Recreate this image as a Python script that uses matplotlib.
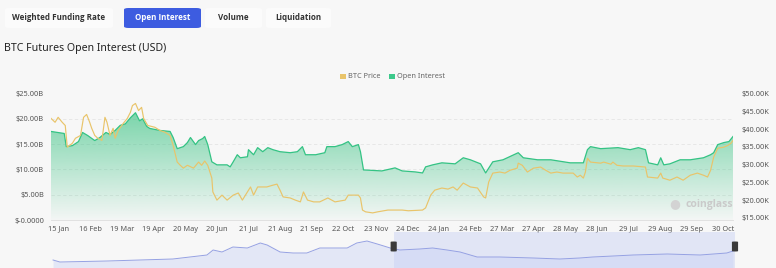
import numpy as np
import pandas as pd
import matplotlib
matplotlib.use("Agg")
import matplotlib.pyplot as plt
import matplotlib.dates as mdates
from matplotlib.patches import FancyBboxPatch, Rectangle

plt.rcParams['font.family'] = ['Noto Sans', 'DejaVu Sans']

# ---- data (days counted from START) ----
START = '2022-01-08'

oi_days = [0, 13, 15, 21, 27, 31, 36, 43, 48, 54, 58, 63, 68, 73, 78, 83, 87, 90, 94, 97,
           107, 117, 120, 124, 130, 134, 137, 142, 145, 149, 151, 154, 158, 163, 173, 176,
           179, 183, 186, 193, 194, 199, 203, 208, 213, 218, 225, 235, 242, 247, 250, 260,
           269, 271, 279, 286, 292, 296, 302, 304, 307, 325, 338, 345, 358, 365, 368, 375,
           384, 397, 405, 412, 422, 427, 434, 444, 459, 464, 478, 491, 510, 523, 527, 530,
           540, 557, 569, 577, 584, 587, 596, 599, 602, 608, 618, 628, 641, 648, 651, 655,
           661, 666, 670]
oi_billion = [17.5, 17.1, 14.5, 14.7, 15.5, 17.3, 16.7, 15.7, 16.3, 17.3, 16.9, 17.7, 18.7,
              19.0, 20.2, 21.2, 19.6, 20.0, 18.5, 18.1, 17.7, 17.5, 16.3, 14.1, 14.5, 15.3,
              16.3, 14.9, 15.7, 16.1, 16.5, 14.9, 11.5, 10.9, 10.9, 10.5, 11.5, 12.9, 12.3,
              12.5, 13.9, 12.9, 14.3, 13.5, 14.3, 13.9, 13.5, 13.3, 13.5, 14.5, 12.9, 12.9,
              13.3, 14.5, 14.5, 14.9, 15.5, 14.5, 14.9, 13.5, 9.9, 9.7, 10.3, 9.7, 9.5, 9.3,
              10.5, 10.9, 11.3, 11.1, 12.3, 11.9, 11.1, 9.3, 11.5, 11.9, 13.3, 12.3, 11.9,
              11.9, 11.3, 11.3, 13.9, 14.5, 14.1, 14.3, 13.9, 14.3, 13.9, 11.3, 10.9, 12.3,
              10.9, 11.1, 11.9, 11.9, 12.3, 12.9, 13.3, 14.9, 15.3, 15.5, 16.5]

price_days = [0, 4, 7, 11, 14, 16, 21, 24, 29, 32, 35, 38, 40, 43, 46, 50, 53, 55, 58, 61,
              63, 66, 71, 75, 78, 80, 83, 86, 89, 91, 95, 102, 107, 112, 117, 120, 124, 127,
              130, 134, 140, 145, 148, 151, 154, 158, 159, 163, 168, 173, 179, 184, 188, 193,
              196, 199, 203, 212, 218, 222, 225, 228, 235, 240, 245, 248, 252, 258, 264, 272,
              279, 289, 292, 302, 304, 306, 309, 316, 321, 331, 345, 351, 365, 368, 373, 377,
              384, 390, 395, 399, 405, 412, 419, 425, 427, 430, 434, 441, 446, 451, 458, 459,
              463, 468, 474, 481, 486, 491, 497, 503, 513, 517, 520, 523, 525, 527, 530, 540,
              543, 550, 552, 556, 562, 572, 584, 586, 596, 599, 601, 608, 615, 621, 628, 635,
              641, 645, 648, 651, 655, 661, 665, 668, 670]
price_k = [43.0, 41.9, 43.3, 41.9, 41.0, 34.9, 36.0, 37.4, 38.2, 43.3, 44.1, 41.9, 40.2,
           38.2, 37.4, 36.8, 43.3, 41.9, 38.2, 40.2, 37.4, 39.6, 41.6, 43.0, 44.7, 46.6,
           47.2, 45.2, 46.1, 43.0, 41.0, 40.5, 39.6, 39.1, 38.2, 35.4, 30.7, 29.8, 29.0,
           29.8, 29.0, 30.7, 29.8, 31.0, 29.8, 26.2, 22.3, 20.0, 21.4, 20.0, 21.4, 22.0,
           20.0, 22.3, 23.7, 21.4, 23.7, 23.7, 24.2, 24.5, 22.8, 20.9, 20.6, 20.0, 19.5,
           22.3, 20.0, 19.5, 19.5, 20.6, 19.5, 20.0, 21.4, 21.4, 20.6, 17.2, 16.7, 16.4,
           16.7, 17.2, 17.2, 17.0, 17.2, 17.8, 21.4, 22.8, 23.4, 23.1, 23.7, 22.8, 24.8,
           23.7, 23.4, 20.9, 20.6, 25.1, 27.6, 27.9, 27.6, 28.4, 29.0, 30.4, 29.8, 27.9,
           29.0, 29.3, 28.4, 27.6, 27.9, 27.6, 27.6, 26.5, 27.0, 26.2, 27.9, 31.8, 30.7,
           30.4, 30.7, 30.1, 30.7, 29.8, 29.6, 29.6, 29.3, 26.5, 26.2, 27.6, 26.2, 25.6,
           26.5, 25.6, 27.0, 27.6, 27.0, 26.5, 28.4, 32.1, 34.6, 34.9, 35.4, 36.0, 36.8]

tick_dates = ['2022-01-15', '2022-02-16', '2022-03-19', '2022-04-19', '2022-05-20',
              '2022-06-20', '2022-07-21', '2022-08-21', '2022-09-21', '2022-10-22',
              '2022-11-23', '2022-12-24', '2023-01-24', '2023-02-24', '2023-03-27',
              '2023-04-27', '2023-05-28', '2023-06-28', '2023-07-29', '2023-08-29',
              '2023-09-29', '2023-10-30']
oi_ticks = [0, 5, 10, 15, 20, 25]
oi_tick_labels = ['$-0.0000', '$5.00B', '$10.00B', '$15.00B', '$20.00B', '$25.00B']
price_ticks = [15, 20, 25, 30, 35, 40, 45, 50]
price_tick_labels = ['$15.00K', '$20.00K', '$25.00K', '$30.00K', '$35.00K', '$40.00K',
                     '$45.00K', '$50.00K']

# overview slider (position along track in %, relative height)
slider_pos = [0.3, 1.3, 8.2, 17.8, 20.3, 22.8, 23.7, 25.0, 26.6, 28.7, 30.6, 31.6, 33.5,
              35.4, 37.4, 39.3, 41.2, 43.3, 44.7, 46.2, 47.7, 49.6, 51.0, 53.9, 55.8, 57.9,
              59.8, 62.3, 65.6, 70.5, 74.4, 77.3, 79.2, 82.2, 85.1, 90.1, 94.9, 98.8, 99.7]
slider_val = [8, 6, 7, 9, 11, 13, 18, 16, 21, 20, 25, 23, 16, 15, 15, 20, 20, 20, 25, 27,
              24, 20, 18, 19, 20, 18, 16, 11, 11, 10, 9, 10, 11, 12, 13, 14, 13, 15, 17]
slider_window = [50.1, 100.0]

tabs = ['Weighted Funding Rate', 'Open Interest', 'Volume', 'Liquidation']

W, H = 776, 268
BG = '#f7f7f7'
GREEN = '#34c384'
GOLD = '#e9c46a'


def fx(px):
    return px / W


def fy(py):
    return 1 - py / H


start = pd.Timestamp(START)
oi_dates = start + pd.to_timedelta(oi_days, unit='D')
price_dates = start + pd.to_timedelta(price_days, unit='D')

fig = plt.figure(figsize=(W / 100, H / 100), dpi=100, facecolor=BG)

# ---- tabs ----
tab_boxes = [(5, 113), (124, 201), (205, 262), (266, 331)]
for (x0, x1), label in zip(tab_boxes, tabs):
    active = label == 'Open Interest'
    box = FancyBboxPatch((fx(x0), fy(28)), fx(x1 - x0), 20 / H,
                         boxstyle='round,pad=0,rounding_size=0.006',
                         transform=fig.transFigure,
                         facecolor='#3d5ce0' if active else '#fbfbfb',
                         edgecolor='none')
    fig.patches.append(box)
    fig.text(fx((x0 + x1) / 2), fy(18), label, ha='center', va='center',
             fontsize=5.8, fontweight='bold', family=['Open Sans', 'DejaVu Sans'],
             color='white' if active else '#333333')

fig.text(fx(4), fy(49), 'BTC Futures Open Interest (USD)', ha='left', va='center',
         fontsize=7.6, color='#222222')

# ---- legend ----
for x0, color, label in [(340, GOLD, 'BTC Price'), (389, '#3cc98b', 'Open Interest')]:
    fig.patches.append(Rectangle((fx(x0), fy(79.5)), fx(5.5), 5.5 / H,
                                 transform=fig.transFigure, facecolor=color,
                                 edgecolor='none'))
    fig.text(fx(x0 + 8), fy(76.5), label, ha='left', va='center', fontsize=5.3,
             color='#666666')

# ---- main chart ----
ax = fig.add_axes([fx(51), fy(220), fx(733 - 51), (220 - 93.5) / H])
ax.set_facecolor('none')

fill = ax.fill_between(oi_dates, oi_billion, 0, facecolor='none', edgecolor='none')
grad = np.zeros((256, 1, 4))
grad[:, 0, 0] = 46 / 255
grad[:, 0, 1] = 192 / 255
grad[:, 0, 2] = 124 / 255
grad[:, 0, 3] = np.linspace(0.02, 0.62, 256)
x0n, x1n = mdates.date2num(oi_dates[0]), mdates.date2num(oi_dates[-1])
im = ax.imshow(grad, extent=[x0n, x1n, 0, max(oi_billion)], origin='lower',
               aspect='auto', zorder=1, interpolation='bilinear')
im.set_clip_path(fill.get_paths()[0], transform=ax.transData)
ax.plot(oi_dates, oi_billion, color=GREEN, lw=0.9, zorder=2)
ax.set_xlim(oi_dates[0], oi_dates[-1])
ax.set_ylim(0, 25)

ax.set_yticks(oi_ticks)
ax.set_yticklabels(oi_tick_labels)
ax.yaxis.grid(True, color='#e4e4e4', lw=0.6, linestyle=(0, (4, 3)))
ax.set_axisbelow(True)
ax.set_xticks(pd.to_datetime(tick_dates))
ax.set_xticklabels([pd.Timestamp(d).strftime('%d %b') for d in tick_dates])
ax.tick_params(axis='y', length=0, pad=5, labelsize=5.3, labelcolor='#555555')
ax.tick_params(axis='x', length=0, pad=4, labelsize=5.3, labelcolor='#555555')
for side in ['top', 'left', 'right']:
    ax.spines[side].set_visible(False)
ax.spines['bottom'].set_color('#dddddd')
ax.spines['bottom'].set_linewidth(0.6)

ax2 = ax.twinx()
ax2.plot(price_dates, price_k, color=GOLD, lw=0.85, zorder=3)
ax2.set_ylim(14.4, 50)
ax2.set_yticks(price_ticks)
ax2.set_yticklabels(price_tick_labels)
ax2.tick_params(axis='y', length=0, pad=6, labelsize=5.3, labelcolor='#555555')
for side in ['top', 'left', 'right', 'bottom']:
    ax2.spines[side].set_visible(False)
ax2.set_xlim(oi_dates[0], oi_dates[-1])

# watermark
fig.text(fx(675), fy(204), '\u25cf', ha='center', va='center', fontsize=9,
         color='#d3d3d3')
fig.text(fx(685), fy(204), 'coinglass', ha='left', va='center', fontsize=7.5,
         fontweight='bold', family=['Open Sans', 'DejaVu Sans'], color='#cacaca')

# ---- overview slider ----
axs = fig.add_axes([fx(51), 0, fx(735 - 51), 36 / H])
axs.set_facecolor('none')
axs.set_xlim(0, 100)
axs.set_ylim(0, 36)
axs.fill_between(slider_pos, slider_val, 0, color='#dfe3f6', alpha=0.8, lw=0)
axs.plot(slider_pos, slider_val, color='#95a1e3', lw=0.7)
axs.axvspan(slider_window[0], slider_window[1], ymin=0, ymax=1, color='#c8d0f4',
            alpha=0.45, lw=0)
for p in slider_window:
    axs.add_patch(FancyBboxPatch((p - 0.45, 16.5), 0.9, 10,
                                 boxstyle='round,pad=0,rounding_size=0.4',
                                 facecolor='#3a3a3a', edgecolor='none',
                                 clip_on=False, zorder=5))
axs.axis('off')

fig.savefig('out.png', dpi=100, facecolor=BG)
